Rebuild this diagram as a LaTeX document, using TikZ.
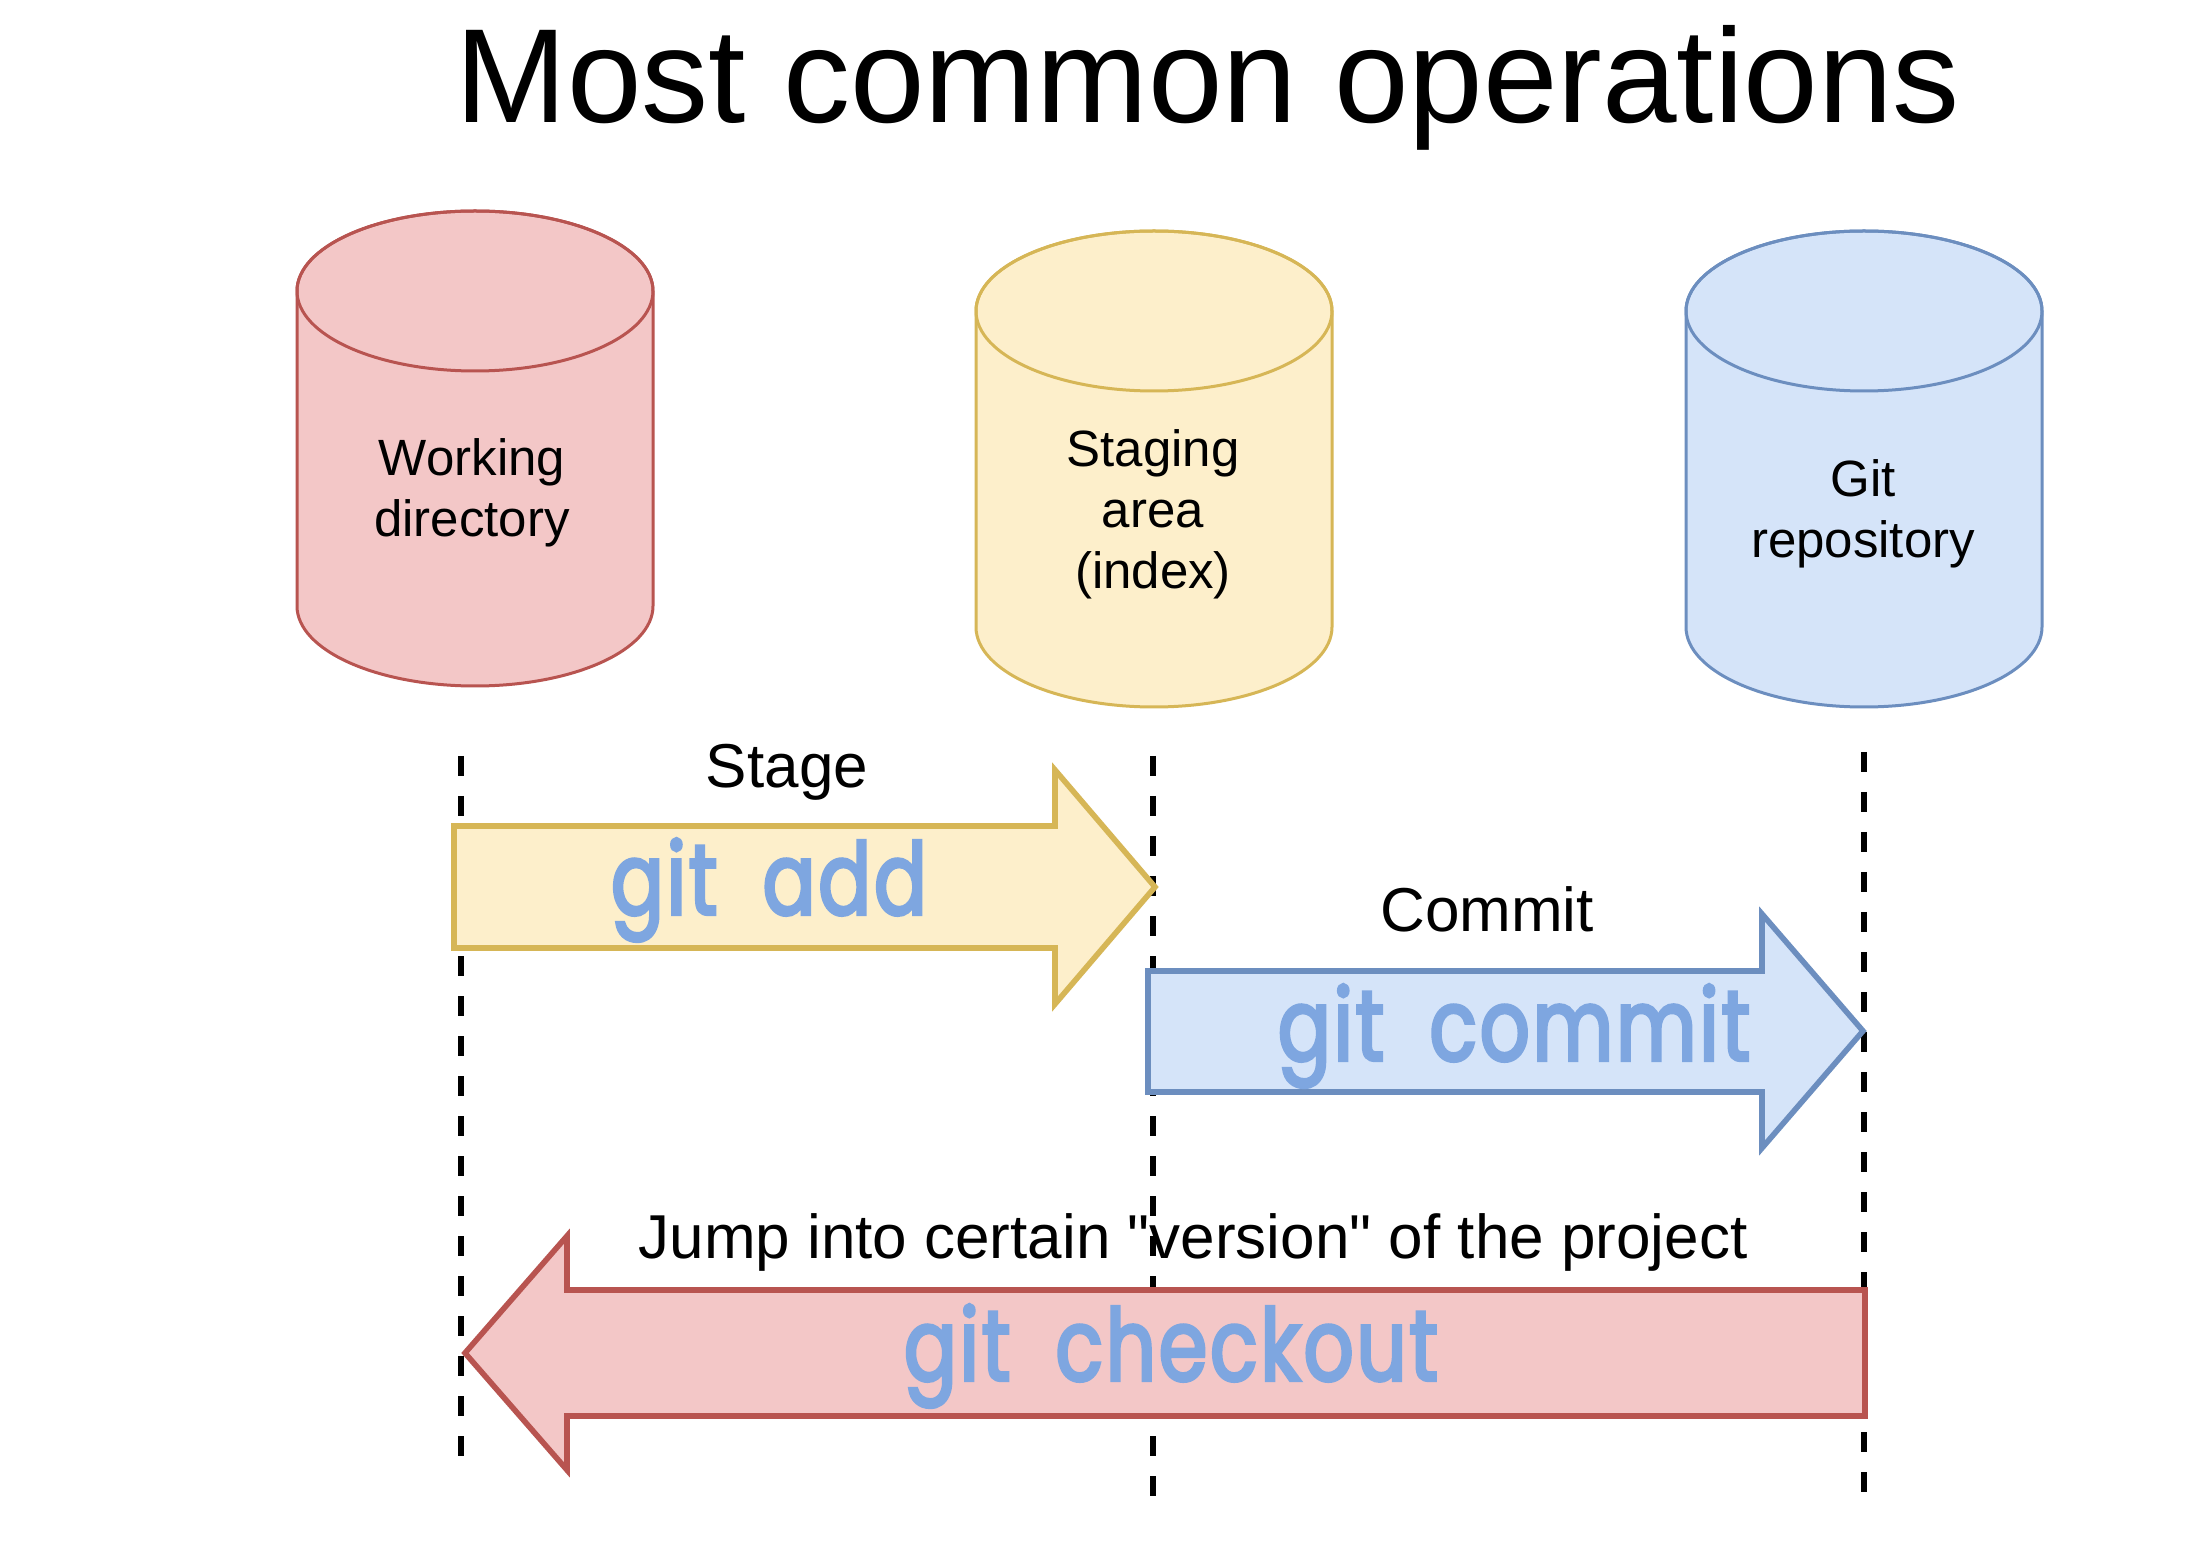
\documentclass[tikz,border=0pt]{standalone}
\usepackage{fontspec}
\setmainfont{Liberation Sans}
\newfontfamily\plainsans{Liberation Sans}[Ligatures=TeXOff]
\newfontfamily\comicfont{Poppins}[FakeBold=3.2,FakeStretch=0.78,LetterSpace=3,WordSpace=1.9]
\definecolor{redfill}{HTML}{F3C7C7}
\definecolor{redline}{HTML}{B85450}
\definecolor{yelfill}{HTML}{FDEFCB}
\definecolor{yelline}{HTML}{D6B656}
\definecolor{blufill}{HTML}{D5E4F9}
\definecolor{bluline}{HTML}{6C8EBF}
\definecolor{gittext}{HTML}{7EA6E0}
\newcommand\mycyl[5]{%
  \path[fill=#4,draw=#5,line width=1.5pt] (#1-178,#2) -- (#1-178,#3)
    arc[start angle=180,end angle=360,x radius=89pt,y radius=40pt] -- (#1+178,#2)
    arc[start angle=0,end angle=180,x radius=89pt,y radius=40pt] -- cycle;
  \draw[draw=#5,line width=1.5pt] (#1,#2) ellipse[x radius=89pt,y radius=40pt];}
\begin{document}
\begin{tikzpicture}[x=0.5pt,y=-0.5pt,
  cyltext/.style={font=\fontsize{25.5pt}{30.5pt}\selectfont,align=center,inner sep=0pt},
  label/.style={font=\plainsans\fontsize{31pt}{36pt}\selectfont,anchor=base,inner sep=0pt},
  gitlabel/.style={font=\comicfont\fontsize{50pt}{55pt}\selectfont,text=gittext,inner sep=0pt},
  arrowshape/.style={line width=2.8pt,line join=miter},
  guide/.style={line width=3pt,dash pattern=on 10pt off 10pt}]
\useasboundingbox[fill=white] (0,0) rectangle (2196,1550);
% title
\node[anchor=base,inner sep=0pt,font=\fontsize{67pt}{75pt}\selectfont] (title) at (1208,123) {Most common operations};
% cylinders
\mycyl{475}{291}{606}{redfill}{redline}
\mycyl{1154}{311}{627}{yelfill}{yelline}
\mycyl{1864}{311}{627}{blufill}{bluline}
\node[cyltext] (wd) at (472,493) {Working\\directory};
\node[cyltext] (sa) at (1153,514) {Staging\\area\\(index)};
\node[cyltext] (gr) at (1863,514) {Git\\repository};
% dashed guides
\coordinate (g1t) at (461,756); \coordinate (g1b) at (461,1470);
\coordinate (g2t) at (1153,756); \coordinate (g2b) at (1153,1496);
\coordinate (g3t) at (1864,752); \coordinate (g3b) at (1864,1500);
\draw[guide] (g1t) -- (g1b);
\draw[guide] (g2t) -- (g2b);
\draw[guide] (g3t) -- (g3b);
% arrows
\draw[arrowshape,fill=yelfill,draw=yelline] (454,826) -- (1055,826) -- (1055,770) -- (1155,887) -- (1055,1004) -- (1055,948) -- (454,948) -- cycle;
\draw[arrowshape,fill=blufill,draw=bluline] (1148,971) -- (1762,971) -- (1762,914) -- (1863,1031) -- (1762,1148) -- (1762,1092) -- (1148,1092) -- cycle;
\draw[arrowshape,fill=redfill,draw=redline] (1865,1290) -- (567,1290) -- (567,1236) -- (465,1353) -- (567,1470) -- (567,1416) -- (1865,1416) -- cycle;
% labels
\node[label] (stage) at (787,788) {Stage};
\node[label] (commit) at (1487,931) {Commit};
\node[label] (jump) at (1193,1258) {Jump into certain "version" of the project};
\node[gitlabel] (add) at (769,890) {git add};
\node[gitlabel] (gcommit) at (1514,1036) {git commit};
\node[gitlabel] (checkout) at (1171,1356) {git checkout};
\end{tikzpicture}
\end{document}
